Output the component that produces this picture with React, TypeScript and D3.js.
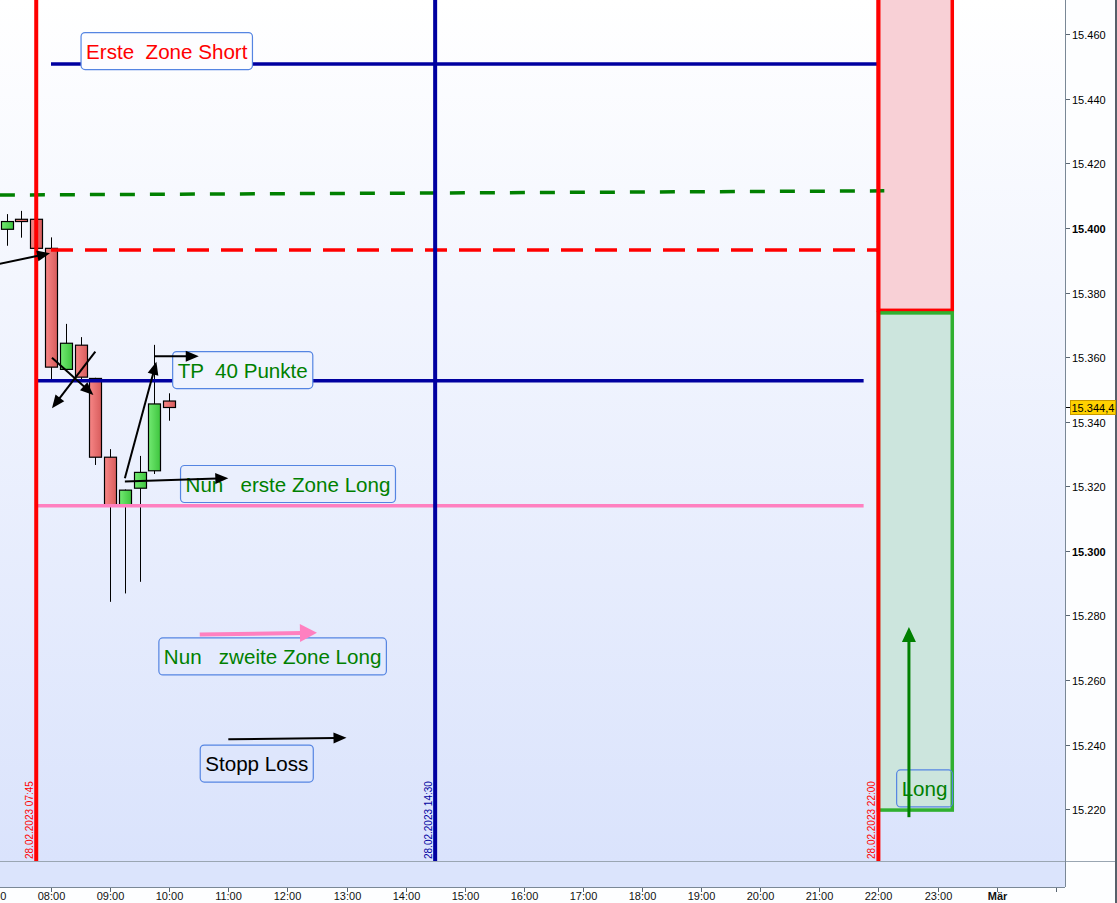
import { useEffect, useRef } from 'react'
import { interpolateRgb, scaleLinear, select } from 'd3'

const WIDTH = 1117
const HEIGHT = 903

// 15-Minuten-Kerzen vom 28.02.2023
const candleTimes = ['07:15', '07:30', '07:45', '08:00', '08:15', '08:30', '08:45', '09:00', '09:15', '09:30', '09:45', '10:00']
const candleOpen = [15399.6, 15402.7, 15402.7, 15393.7, 15356.2, 15363.7, 15353.4, 15329.0, 15314.2, 15319.4, 15324.8, 15346.4]
const candleHigh = [15404.3, 15405.3, 15403.2, 15397.1, 15370.3, 15366.2, 15353.6, 15331.5, 15319.0, 15329.4, 15363.8, 15348.8]
const candleLow = [15394.5, 15397.0, 15393.5, 15353.2, 15355.5, 15352.5, 15326.6, 15284.2, 15286.8, 15290.4, 15323.8, 15340.3]
const candleClose = [15402.0, 15402.0, 15393.7, 15356.9, 15364.3, 15353.8, 15329.0, 15314.2, 15318.8, 15324.3, 15345.5, 15344.4]

const lastPrice = 15344.4

const priceTicks = [15220, 15240, 15260, 15280, 15300, 15320, 15340, 15360, 15380, 15400, 15420, 15440, 15460]
const timeTicks = ['07:00', '08:00', '09:00', '10:00', '11:00', '12:00', '13:00', '14:00', '15:00', '16:00', '17:00', '18:00', '19:00', '20:00', '21:00', '22:00', '23:00', '24:00', '25:00']
const timeTickLabels = ['07:00', '08:00', '09:00', '10:00', '11:00', '12:00', '13:00', '14:00', '15:00', '16:00', '17:00', '18:00', '19:00', '20:00', '21:00', '22:00', '23:00', 'Mär', '']

// horizontale Linien
const levelNames = ['shortZone', 'greenDash', 'redDash', 'takeProfit', 'longZone']
const levelFrom = ['08:00', '07:00', '08:00', '07:45', '07:45']
const levelTo = ['22:00', '22:06', '22:00', '21:45', '21:45']
const levelPriceFrom = [15450.8, 15410.2, 15393.2, 15352.7, 15314.0]
const levelPriceTo = [15450.8, 15411.5, 15393.2, 15352.7, 15314.0]

// vertikale Markierungen
const markerTimes = ['07:45', '14:30', '22:00']
const markerLabels = ['28.02.2023 07:45', '28.02.2023 14:30', '28.02.2023 22:00']

// Zonen rechts
const zoneNames = ['short', 'long']
const zoneFrom = ['22:00', '22:00']
const zoneTo = ['23:15', '23:15']
const zoneTop = [15520, 15373.7]
const zoneBottom = [15374.5, 15219.7]

// Textboxen
const labelTexts = ['Erste  Zone Short', 'TP  40 Punkte', 'Nun   erste Zone Long', 'Nun   zweite Zone Long', 'Stopp Loss', 'Long']
const labelTimes = ['08:30', '10:03', '10:11', '09:49', '10:31', '22:18']
const labelPrices = [15454.8, 15356.0, 15320.7, 15267.3, 15234.1, 15226.4]

// Pfeile
const arrowKinds = ['black', 'black', 'black', 'black', 'black', 'black', 'black', 'pink', 'green']
const arrowFromTime = ['07:08', '08:45', '08:01', '09:15', '09:45', '09:15', '11:00', '10:31', '22:31']
const arrowFromPrice = [15388.9, 15361.7, 15359.8, 15322.5, 15360.3, 15321.5, 15241.6, 15274.1, 15217.5]
const arrowToTime = ['07:59', '08:01', '08:43', '09:47', '10:30', '11:00', '13:00', '12:30', '22:31']
const arrowToPrice = [15392.2, 15344.2, 15348.3, 15358.6, 15360.3, 15322.5, 15242.1, 15274.6, 15276.4]

const FONT = '"Liberation Sans", Arial, sans-serif'

const levelStyle: Record<string, { color: string; dash: string | null; offset: number }> = {
  shortZone: { color: '#0000a0', dash: null, offset: 0 },
  greenDash: { color: '#008000', dash: '15,15', offset: 22 },
  redDash: { color: '#ff0000', dash: '22,12', offset: 0 },
  takeProfit: { color: '#0000a0', dash: null, offset: 0 },
  longZone: { color: '#ff80c0', dash: null, offset: 0 },
}
const markerColors = ['#ff0000', '#0000a0', '#ff0000']
const zoneStyle: Record<string, { fill: string; stroke: string }> = {
  short: { fill: '#f8d0d6', stroke: '#ff0000' },
  long: { fill: '#cce5dd', stroke: '#30b030' },
}
const labelColors = ['#ff0000', '#008000', '#008000', '#008000', '#000000', '#008000']
const arrowStyle: Record<string, { color: string; width: number; len: number; half: number }> = {
  black: { color: '#000000', width: 2, len: 13, half: 5.5 },
  pink: { color: '#ff80c0', width: 4, len: 17, half: 9 },
  green: { color: '#008000', width: 3, len: 15, half: 7 },
}

function minutes(value: string) {
  const [h, m] = value.split(':').map(Number)
  return h * 60 + m
}

function formatPrice(value: number) {
  return `${Math.floor(value / 1000)}.${String(Math.round(value % 1000)).padStart(3, '0')}`
}

export default function App() {
  const svgRef = useRef<SVGSVGElement | null>(null)

  useEffect(() => {
    if (!svgRef.current) {
      return
    }
    const plotRight = 1065
    const plotBottom = 861
    const bandBottom = 887

    const x = scaleLinear().domain([480, 1320]).range([51, 878.4])
    const y = scaleLinear().domain([15220, 15460]).range([809.1, 34.3])
    const bgTop = '#ffffff'
    const bgBottom = '#dae3fc'
    const bgAt = (py: number) => interpolateRgb(bgTop, bgBottom)(Math.max(0, Math.min(1, py / plotBottom)))

    const svg = select(svgRef.current)
    svg.selectAll('*').remove()

    const defs = svg.append('defs')
    const bg = defs.append('linearGradient').attr('id', 'bg').attr('x1', 0).attr('y1', 0).attr('x2', 0).attr('y2', 1)
    bg.append('stop').attr('offset', '0%').attr('stop-color', bgTop)
    bg.append('stop').attr('offset', '100%').attr('stop-color', bgBottom)
    const redBody = defs.append('linearGradient').attr('id', 'redBody')
    redBody.append('stop').attr('offset', '0%').attr('stop-color', '#f78686')
    redBody.append('stop').attr('offset', '100%').attr('stop-color', '#d85c5c')
    const greenBody = defs.append('linearGradient').attr('id', 'greenBody')
    greenBody.append('stop').attr('offset', '0%').attr('stop-color', '#72ea72')
    greenBody.append('stop').attr('offset', '100%').attr('stop-color', '#3ec43e')
    const volLine = defs.append('linearGradient').attr('id', 'volLine')
    volLine.append('stop').attr('offset', '0%').attr('stop-color', '#b0b8d0')
    volLine.append('stop').attr('offset', '40%').attr('stop-color', '#4050b0')
    volLine.append('stop').attr('offset', '100%').attr('stop-color', '#0000a0')
    defs.append('clipPath').attr('id', 'plot').append('rect').attr('width', plotRight).attr('height', plotBottom)

    svg.append('rect').attr('width', WIDTH).attr('height', HEIGHT).attr('fill', '#fdfeff')
    svg.append('rect').attr('width', plotRight).attr('height', plotBottom).attr('fill', 'url(#bg)')
    svg.append('rect').attr('y', plotBottom).attr('width', plotRight).attr('height', bandBottom - plotBottom).attr('fill', '#dbe4fc')

    const plot = svg.append('g').attr('clip-path', 'url(#plot)')

    // Zonen
    zoneNames.forEach((name, i) => {
      plot
        .append('rect')
        .attr('x', x(minutes(zoneFrom[i])))
        .attr('y', y(zoneTop[i]))
        .attr('width', x(minutes(zoneTo[i])) - x(minutes(zoneFrom[i])))
        .attr('height', y(zoneBottom[i]) - y(zoneTop[i]))
        .attr('fill', zoneStyle[name].fill)
        .attr('stroke', zoneStyle[name].stroke)
        .attr('stroke-width', 3.5)
    })

    // Kerzen
    const bodyWidth = 12
    candleTimes.forEach((time, i) => {
      const cx = Math.round(x(minutes(time))) + 0.5
      const up = candleClose[i] >= candleOpen[i]
      plot
        .append('line')
        .attr('x1', cx)
        .attr('x2', cx)
        .attr('y1', y(candleHigh[i]))
        .attr('y2', y(candleLow[i]))
        .attr('stroke', '#000')
        .attr('stroke-width', 1)
      const top = y(Math.max(candleOpen[i], candleClose[i]))
      const bottom = y(Math.min(candleOpen[i], candleClose[i]))
      plot
        .append('rect')
        .attr('x', cx - bodyWidth / 2)
        .attr('y', top)
        .attr('width', bodyWidth)
        .attr('height', Math.max(bottom - top, 1))
        .attr('fill', up ? 'url(#greenBody)' : 'url(#redBody)')
        .attr('stroke', '#000')
        .attr('stroke-width', 1.2)
    })

    // horizontale Linien
    levelNames.forEach((name, i) => {
      const style = levelStyle[name]
      plot
        .append('line')
        .attr('x1', x(minutes(levelFrom[i])))
        .attr('x2', x(minutes(levelTo[i])))
        .attr('y1', y(levelPriceFrom[i]))
        .attr('y2', y(levelPriceTo[i]))
        .attr('stroke', style.color)
        .attr('stroke-width', 3.5)
        .attr('stroke-dasharray', style.dash)
        .attr('stroke-dashoffset', style.offset)
    })

    // kleine Linie unten
    plot
      .append('line')
      .attr('x1', x(minutes('07:08')))
      .attr('x2', x(minutes('09:37')))
      .attr('y1', 859.5)
      .attr('y2', 859.5)
      .attr('stroke', 'url(#volLine)')
      .attr('stroke-width', 1.5)

    // vertikale Linien
    markerTimes.forEach((time, i) => {
      const mx = x(minutes(time))
      plot
        .append('line')
        .attr('x1', mx)
        .attr('x2', mx)
        .attr('y1', 0)
        .attr('y2', plotBottom)
        .attr('stroke', markerColors[i])
        .attr('stroke-width', 4)
      plot
        .append('text')
        .attr('transform', `translate(${mx - 3.5},${plotBottom - 2}) rotate(-90)`)
        .attr('font-family', FONT)
        .attr('font-size', 10)
        .attr('fill', markerColors[i])
        .text(markerLabels[i])
    })

    // Textboxen
    labelTexts.forEach((label, i) => {
      const lx = x(minutes(labelTimes[i]))
      const ly = y(labelPrices[i])
      const group = plot.append('g')
      const box = group.append('rect')
      const text = group
        .append('text')
        .attr('x', lx + 5.5)
        .attr('y', ly + 7.5)
        .attr('font-family', FONT)
        .attr('font-size', 20.6)
        .attr('fill', labelColors[i])
        .attr('xml:space', 'preserve')
        .style('white-space', 'pre')
        .text(label)
      const width = (text.node() as SVGTextElement).getComputedTextLength() + 10
      const inZone = minutes(labelTimes[i]) >= minutes(zoneFrom[0])
      box
        .attr('x', lx + 0.5)
        .attr('y', ly - 18.5)
        .attr('width', width)
        .attr('height', 37)
        .attr('rx', 4)
        .attr('fill', inZone ? 'none' : bgAt(ly))
        .attr('stroke', '#5585e2')
        .attr('stroke-width', 1.2)
    })

    // Pfeile
    arrowKinds.forEach((kind, i) => {
      const style = arrowStyle[kind]
      const x1 = x(minutes(arrowFromTime[i]))
      const y1 = y(arrowFromPrice[i])
      const x2 = x(minutes(arrowToTime[i]))
      const y2 = y(arrowToPrice[i])
      const dx = x2 - x1
      const dy = y2 - y1
      const length = Math.hypot(dx, dy)
      const ux = dx / length
      const uy = dy / length
      const bx = x2 - ux * style.len
      const by = y2 - uy * style.len
      plot
        .append('line')
        .attr('x1', x1)
        .attr('y1', y1)
        .attr('x2', bx + ux * 2)
        .attr('y2', by + uy * 2)
        .attr('stroke', style.color)
        .attr('stroke-width', style.width)
      plot
        .append('path')
        .attr(
          'd',
          `M${x2},${y2}L${bx - uy * style.half},${by + ux * style.half}L${bx + uy * style.half},${by - ux * style.half}Z`
        )
        .attr('fill', style.color)
    })

    // Rahmen
    svg.append('line').attr('x1', 0).attr('x2', WIDTH).attr('y1', plotBottom + 0.5).attr('y2', plotBottom + 0.5).attr('stroke', '#9aa6b2')
    svg.append('line').attr('x1', 0).attr('x2', plotRight).attr('y1', bandBottom + 0.5).attr('y2', bandBottom + 0.5).attr('stroke', '#7a8896')
    svg.append('line').attr('x1', plotRight + 0.5).attr('x2', plotRight + 0.5).attr('y1', 0).attr('y2', bandBottom).attr('stroke', '#7a8896')
    svg.append('rect').attr('x', WIDTH - 2).attr('width', 2).attr('height', HEIGHT).attr('fill', '#56606a')

    // Preisachse
    const yAxis = svg.append('g')
    priceTicks.forEach(value => {
      const py = Math.round(y(value)) + 0.5
      yAxis.append('line').attr('x1', plotRight + 1).attr('x2', plotRight + 5).attr('y1', py).attr('y2', py).attr('stroke', '#5a6672')
      yAxis
        .append('text')
        .attr('x', plotRight + 7)
        .attr('y', py + 4)
        .attr('font-family', FONT)
        .attr('font-size', 11)
        .attr('font-weight', value % 100 === 0 ? 'bold' : 'normal')
        .attr('fill', '#000')
        .text(formatPrice(value))
    })
    const lp = Math.round(y(lastPrice)) + 0.5
    yAxis.append('line').attr('x1', plotRight + 1).attr('x2', plotRight + 5).attr('y1', lp).attr('y2', lp).attr('stroke', '#000')
    yAxis
      .append('rect')
      .attr('x', plotRight + 5.5)
      .attr('y', lp - 7)
      .attr('width', 45)
      .attr('height', 14)
      .attr('fill', '#ffd200')
      .attr('stroke', '#c89a00')
    yAxis
      .append('text')
      .attr('x', plotRight + 6.5)
      .attr('y', lp + 4)
      .attr('font-family', FONT)
      .attr('font-size', 11)
      .attr('fill', '#000')
      .text(`${formatPrice(Math.floor(lastPrice))},${Math.round((lastPrice % 1) * 10)}`)

    // Zeitachse
    const xAxis = svg.append('g')
    timeTicks.forEach((time, i) => {
      const tx = Math.round(x(minutes(time))) + 0.5
      xAxis.append('line').attr('x1', tx).attr('x2', tx).attr('y1', bandBottom + 1).attr('y2', bandBottom + 5).attr('stroke', '#5a6672')
      xAxis
        .append('text')
        .attr('x', tx)
        .attr('y', HEIGHT - 3)
        .attr('text-anchor', 'middle')
        .attr('font-family', FONT)
        .attr('font-size', 11)
        .attr('font-weight', timeTickLabels[i] === 'Mär' ? 'bold' : 'normal')
        .attr('fill', '#111')
        .text(timeTickLabels[i])
    })
  }, [])

  return (
    <svg
      ref={svgRef}
      width={WIDTH}
      height={HEIGHT}
      style={{ position: 'absolute', left: 0, top: 0, display: 'block' }}
    />
  )
}
